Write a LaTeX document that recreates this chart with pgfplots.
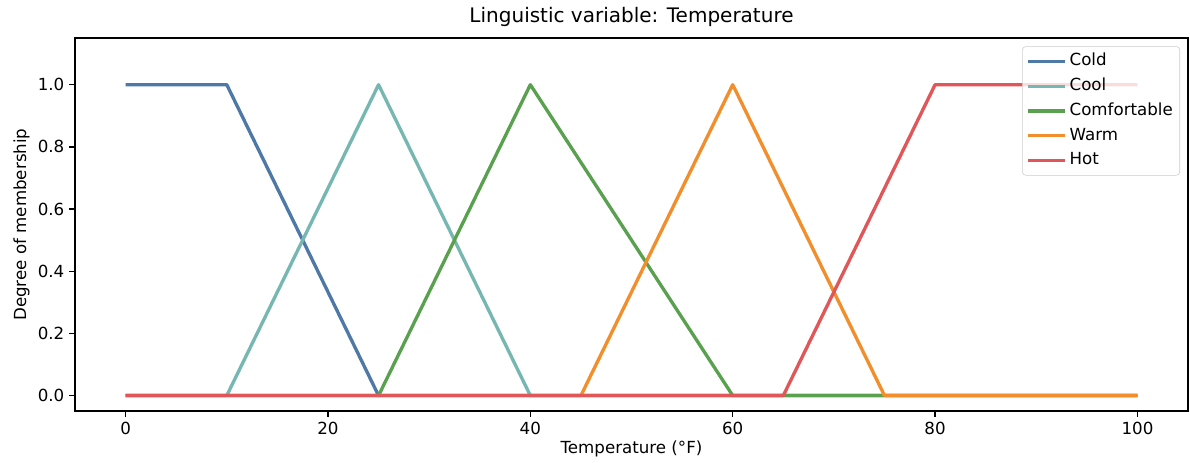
\documentclass[border=0pt]{standalone}
\usepackage{fontspec}
\setmainfont{DejaVu Sans}
\usepackage{pgfplots}
\pgfplotsset{compat=1.18}
\usetikzlibrary{calc}
\definecolor{cCold}{HTML}{4E79A7}
\definecolor{cCool}{HTML}{76B7B2}
\definecolor{cComf}{HTML}{59A14F}
\definecolor{cWarm}{HTML}{F28E2B}
\definecolor{cHot}{HTML}{E15759}
\begin{document}
\begin{tikzpicture}
\begin{axis}[
  scale only axis,
  width=801.4pt, height=268.6pt,
  xmin=-5, xmax=105, ymin=-0.05, ymax=1.15,
  xtick={0,20,40,60,80,100},
  ytick={0,0.2,0.4,0.6,0.8,1.0},
  yticklabel style={/pgf/number format/.cd,fixed,fixed zerofill,precision=1},
  /pgf/number format/assume math mode=true,
  tick align=outside,
  major tick length=4.2pt,
  tick style={black, line width=0.96pt},
  axis line style={line width=0.96pt},
  xtick pos=bottom, ytick pos=left,
  ticklabel style={font=\fontsize{12}{14}\selectfont},
  title={Linguistic variable: Temperature},
  title style={font=\fontsize{14.4}{17}\selectfont, yshift=-1pt},
  xlabel={Temperature (°F)},
  ylabel={Degree of membership},
  label style={font=\fontsize{12}{14}\selectfont},
  xlabel style={yshift=2pt},
  ylabel style={yshift=-1pt},
  legend style={at={(0.9928,0.978)}, anchor=north east, draw=black!20, rounded corners=2.5pt,
    fill=white, fill opacity=0.8, text opacity=1,
    font=\fontsize{12}{14}\selectfont, row sep=2.3pt, inner sep=3pt,
    nodes={inner sep=2pt, text height=9pt, text depth=2.5pt}},
  legend cell align=left,
  legend image code/.code={\draw[#1, line width=2.4pt] (-5pt,0pt) -- (21.6pt,0pt);},
]
\addplot[cCold, line width=2.4pt, line join=round] coordinates {(0,1) (10,1) (25,0) (100,0)};
\addlegendentry{Cold}
\addplot[cCool, line width=2.4pt, line join=round] coordinates {(0,0) (10,0) (25,1) (40,0) (100,0)};
\addlegendentry{Cool}
\addplot[cComf, line width=2.4pt, line join=round] coordinates {(0,0) (25,0) (40,1) (60,0) (100,0)};
\addlegendentry{Comfortable}
\addplot[cWarm, line width=2.4pt, line join=round] coordinates {(0,0) (45,0) (60,1) (75,0) (100,0)};
\addlegendentry{Warm}
\addplot[cHot, line width=2.4pt, line join=round] coordinates {(0,0) (65,0) (80,1) (100,1)};
\addlegendentry{Hot}
\end{axis}
\pgfresetboundingbox
\path[use as bounding box] ($(current axis.south west)+(-54pt,-36.7pt)$) rectangle ($(current axis.north east)+(1.4pt,27.4pt)$);
\end{tikzpicture}
\end{document}
